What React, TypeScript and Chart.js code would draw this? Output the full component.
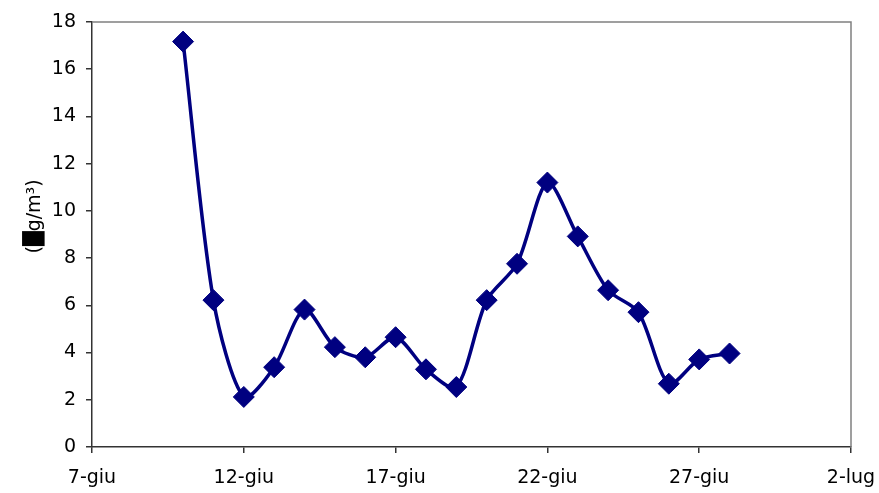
import React, { useEffect, useRef } from "react";
import { Chart, registerables } from "chart.js";

Chart.register(...registerables);

// Day offsets from 7-giu (0) ; points from 10-giu to 28-giu
const dayOffsets = [3, 4, 5, 6, 7, 8, 9, 10, 11, 12, 13, 14, 15, 16, 17, 18, 19, 20, 21];
const values = [17.17, 6.22, 2.12, 3.38, 5.82, 4.23, 3.8, 4.65, 3.29, 2.54, 6.22, 7.76, 11.2, 8.92, 6.64, 5.71, 2.68, 3.71, 3.96];
const xTickLabels = ["7-giu", "12-giu", "17-giu", "22-giu", "27-giu", "2-lug"];
const yTitle = "(\u2588g/m\u00B3)";

const FONT = "'DejaVu Sans', sans-serif";

export default function App() {
  const ref = useRef<HTMLCanvasElement | null>(null);

  useEffect(() => {
    if (!ref.current) return;
    const frame = {
      id: "frame",
      afterDatasetsDraw(chart: any) {
        const { ctx, chartArea } = chart;
        ctx.save();
        ctx.strokeStyle = "#808080";
        ctx.lineWidth = 1.5;
        ctx.beginPath();
        ctx.moveTo(chartArea.left, chartArea.top);
        ctx.lineTo(chartArea.right, chartArea.top);
        ctx.lineTo(chartArea.right, chartArea.bottom);
        ctx.stroke();
        ctx.restore();
      },
    };
    const chart = new Chart(ref.current, {
      type: "line",
      data: {
        datasets: [
          {
            data: dayOffsets.map((d, i) => ({ x: d, y: values[i] })),
            borderColor: "#000080",
            backgroundColor: "#000080",
            borderWidth: 3.5,
            tension: 0.28,
            pointStyle: "rectRot",
            pointRadius: 10.5,
            pointBorderWidth: 1,
            pointBackgroundColor: "#000080",
            pointBorderColor: "#000080",
            fill: false,
          },
        ],
      },
      options: {
        responsive: false,
        animation: false,
        layout: { padding: { left: 0, right: 28, top: 22, bottom: 0 } },
        plugins: { legend: { display: false }, tooltip: { enabled: false } },
        scales: {
          x: {
            type: "linear",
            min: 0,
            max: 25,
            afterFit: (s: any) => { s.height = 46; s.paddingLeft = 0; s.paddingRight = 0; },
            ticks: {
              stepSize: 5,
              color: "#000",
              font: { family: FONT, size: 19 },
              padding: 14,
              maxRotation: 0,
              autoSkip: false,
              callback: (v: any) => xTickLabels[Math.round(Number(v) / 5)] ?? "",
            },
            grid: { drawOnChartArea: false, drawTicks: true, tickLength: 6, color: "#333", lineWidth: 1.5 },
            border: { display: true, color: "#333", width: 1.5 },
          },
          y: {
            min: 0,
            max: 18,
            afterFit: (s: any) => { s.width = 92; s.paddingTop = 0; s.paddingBottom = 0; },
            ticks: {
              stepSize: 2,
              color: "#000",
              font: { family: FONT, size: 19 },
              padding: 10,
            },
            title: {
              display: true,
              text: "      " + yTitle,
              color: "#000",
              font: { family: FONT, size: 19 },
              padding: { top: 24, bottom: 0 },
            },
            grid: { drawOnChartArea: false, drawTicks: true, tickLength: 6, color: "#333", lineWidth: 1.5 },
            border: { display: true, color: "#333", width: 1.5 },
          },
        },
      },
      plugins: [frame],
    });
    return () => chart.destroy();
  }, []);

  return (
    <div style={{ position: "absolute", left: 0, top: 0, width: 879, height: 493, background: "#fff" }}>
      <canvas ref={ref} width={879} height={493} />
    </div>
  );
}
